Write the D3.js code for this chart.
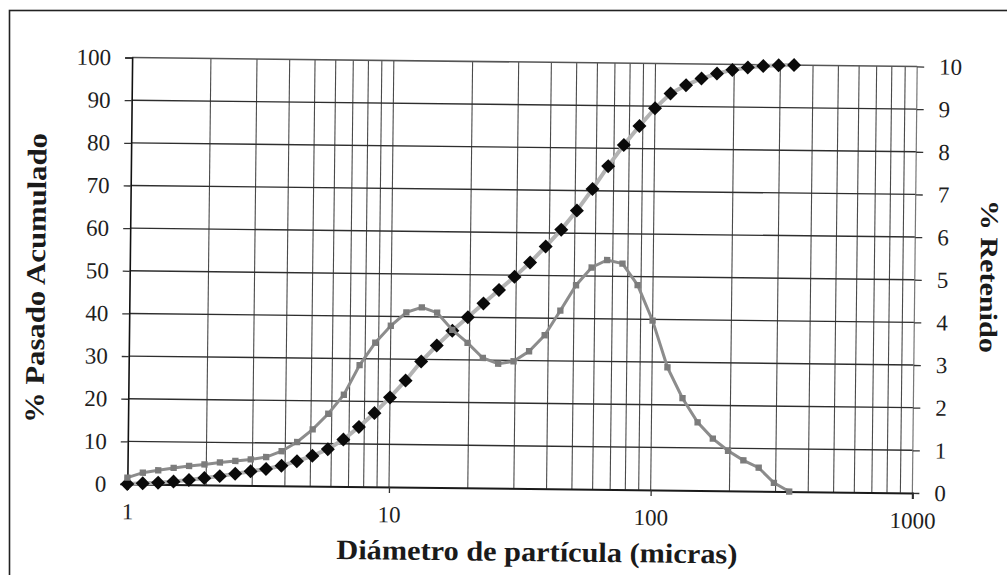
<!DOCTYPE html>
<html>
<head>
<meta charset="utf-8">
<script src="https://cdn.jsdelivr.net/npm/d3@7"></script>
<style>
  html, body { margin: 0; padding: 0; background: #fff; }
  svg { display: block; }
  text { font-family: "Liberation Serif", "Times New Roman", serif; }
</style>
</head>
<body>
<svg id="chart" width="1007" height="575"></svg>
<script>
// Particle diameters (micras), geometric bins
const diametros = [1.000, 1.145, 1.311, 1.501, 1.719, 1.968, 2.254, 2.581, 2.955, 3.384,
  3.875, 4.437, 5.081, 5.818, 6.662, 7.629, 8.736, 10.00, 11.45, 13.11,
  15.01, 17.19, 19.68, 22.54, 25.81, 29.55, 33.84, 38.75, 44.37, 50.81,
  58.18, 66.62, 76.29, 87.36, 100.0, 114.5, 131.1, 150.1, 171.9, 196.8,
  225.4, 258.1, 295.5, 338.4];

// % Pasado Acumulado (left axis)
const pasadoAcumulado = [0.0, 0.2, 0.4, 0.7, 1.1, 1.6, 2.1, 2.7, 3.3, 3.9,
  4.7, 5.8, 7.1, 8.7, 11.0, 14.0, 17.3, 21.0, 25.0, 29.5,
  33.3, 36.8, 40.0, 43.3, 46.5, 49.6, 53.0, 56.8, 60.8, 65.3,
  70.4, 75.8, 80.8, 85.3, 89.5, 93.0, 95.0, 96.6, 97.8, 98.7,
  99.3, 99.7, 99.9, 100.0];

// % Retenido (right axis)
const retenido = [0.15, 0.27, 0.33, 0.39, 0.44, 0.48, 0.53, 0.57, 0.61, 0.67,
  0.81, 1.03, 1.33, 1.70, 2.15, 2.85, 3.38, 3.78, 4.10, 4.22,
  4.10, 3.70, 3.40, 3.05, 2.92, 2.98, 3.22, 3.60, 4.18, 4.78,
  5.20, 5.38, 5.30, 4.80, 3.97, 2.88, 2.16, 1.60, 1.22, 0.94,
  0.72, 0.55, 0.20, 0.00];

// Tick values
const ticksIzq = [0, 10, 20, 30, 40, 50, 60, 70, 80, 90, 100];
const ticksDer = [0, 1, 2, 3, 4, 5, 6, 7, 8, 9, 10];
const ticksX = [1, 10, 100, 1000];

const tituloX = "Diámetro de partícula (micras)";
const tituloIzq = "% Pasado Acumulado";
const tituloDer = "% Retenido";

const svg = d3.select("#chart");

// Outer frame
svg.append("rect")
  .attr("x", 9.5).attr("y", 10.5)
  .attr("width", 1100).attr("height", 700)
  .attr("fill", "none").attr("stroke", "#222").attr("stroke-width", 1.6);

const plot = { left: 129.7, right: 914.8, top: 62, bottom: 488.5 };
const cx = (plot.left + plot.right) / 2, cy = (plot.top + plot.bottom) / 2;

const g = svg.append("g").attr("transform", `rotate(0.65, ${cx}, ${cy})`);

const x = d3.scaleLog().domain([1, 1000]).range([plot.left, plot.right]);
const yL = d3.scaleLinear().domain([0, 100]).range([plot.bottom, plot.top]);
const yR = d3.scaleLinear().domain([0, 10]).range([plot.bottom, plot.top]);

// Vertical grid (log minor lines)
const vGrid = [];
for (let dec = 1; dec < 1000; dec *= 10) for (let m = 1; m < 10; m++) vGrid.push(dec * m);
vGrid.push(1000);
g.append("g").selectAll("line").data(vGrid.filter(d => d > 1 && d < 1000)).join("line")
  .attr("x1", d => x(d)).attr("x2", d => x(d))
  .attr("y1", plot.top).attr("y2", plot.bottom)
  .attr("stroke", "#4a4a4a").attr("stroke-width", 1.1);

// Horizontal grid
g.append("g").selectAll("line").data(ticksIzq.filter(d => d > 0 && d < 100)).join("line")
  .attr("x1", plot.left).attr("x2", plot.right)
  .attr("y1", d => yL(d)).attr("y2", d => yL(d))
  .attr("stroke", "#2e2e2e").attr("stroke-width", 1.4);

// Top and right frame lines
g.append("line").attr("x1", plot.left).attr("x2", plot.right)
  .attr("y1", plot.top).attr("y2", plot.top)
  .attr("stroke", "#555").attr("stroke-width", 1.6);
g.append("line").attr("x1", plot.right).attr("x2", plot.right)
  .attr("y1", plot.top).attr("y2", plot.bottom)
  .attr("stroke", "#777").attr("stroke-width", 1.2);

function styleAxis(sel) {
  sel.selectAll("text")
    .attr("font-family", "'Liberation Serif', serif")
    .attr("font-size", 23).attr("fill", "#1e1e1e");
  sel.selectAll(".tick line").attr("stroke", "#333").attr("stroke-width", 1.3);
}

// Left axis
const axL = g.append("g").attr("transform", `translate(${plot.left},0)`)
  .call(d3.axisLeft(yL).tickValues(ticksIzq).tickFormat(d3.format("d")).tickSize(7).tickPadding(14));
axL.select(".domain").attr("stroke", "#111").attr("stroke-width", 1.6);
styleAxis(axL);

// Right axis
const axR = g.append("g").attr("transform", `translate(${plot.right},0)`)
  .call(d3.axisRight(yR).tickValues(ticksDer).tickFormat(d3.format("d")).tickSize(7).tickPadding(15));
axR.select(".domain").remove();
styleAxis(axR);

// Bottom axis
const axB = g.append("g").attr("transform", `translate(0,${plot.bottom})`)
  .call(d3.axisBottom(x).tickValues(ticksX).tickFormat(d3.format("d")).tickSize(6).tickPadding(13));
axB.select(".domain").attr("stroke", "#1a1a1a").attr("stroke-width", 2);
styleAxis(axB);

// Cumulative series: light gray connector with black diamonds
const lineAcum = d3.line().x((d, i) => x(diametros[i])).y(d => yL(d));
g.append("path").datum(pasadoAcumulado)
  .attr("d", lineAcum).attr("fill", "none")
  .attr("stroke", "#b3b3b3").attr("stroke-width", 4);
const diamond = d3.symbol().type(d3.symbolSquare).size(98);
g.append("g").selectAll("path").data(pasadoAcumulado).join("path")
  .attr("d", diamond)
  .attr("transform", (d, i) => `translate(${x(diametros[i])},${yL(d)}) rotate(45)`)
  .attr("fill", "#0a0a0a");

// Retained series: gray line with small gray markers
const lineRet = d3.line().x((d, i) => x(diametros[i])).y(d => yR(d));
g.append("path").datum(retenido)
  .attr("d", lineRet).attr("fill", "none")
  .attr("stroke", "#8c8c8c").attr("stroke-width", 3);
const square = d3.symbol().type(d3.symbolSquare).size(40);
g.append("g").selectAll("path").data(retenido).join("path")
  .attr("d", square)
  .attr("transform", (d, i) => `translate(${x(diametros[i])},${yR(d)})`)
  .attr("fill", "#7c7c7c");

// Axis titles
g.append("text")
  .attr("x", 540).attr("y", 551.5)
  .attr("text-anchor", "middle").attr("dominant-baseline", "central")
  .attr("font-weight", "bold").attr("font-size", 28).attr("fill", "#1a1a1a")
  .attr("textLength", 401).attr("lengthAdjust", "spacingAndGlyphs")
  .text(tituloX);

g.append("text")
  .attr("transform", "translate(36,283.5) rotate(-90)")
  .attr("text-anchor", "middle").attr("dominant-baseline", "central")
  .attr("font-weight", "bold").attr("font-size", 27).attr("fill", "#1a1a1a")
  .attr("textLength", 290).attr("lengthAdjust", "spacingAndGlyphs")
  .text(tituloIzq);

g.append("text")
  .attr("transform", "translate(989,271) rotate(90)")
  .attr("text-anchor", "middle").attr("dominant-baseline", "central")
  .attr("font-weight", "bold").attr("font-size", 25).attr("fill", "#1a1a1a")
  .attr("textLength", 153).attr("lengthAdjust", "spacingAndGlyphs")
  .text(tituloDer);
</script>
</body>
</html>
